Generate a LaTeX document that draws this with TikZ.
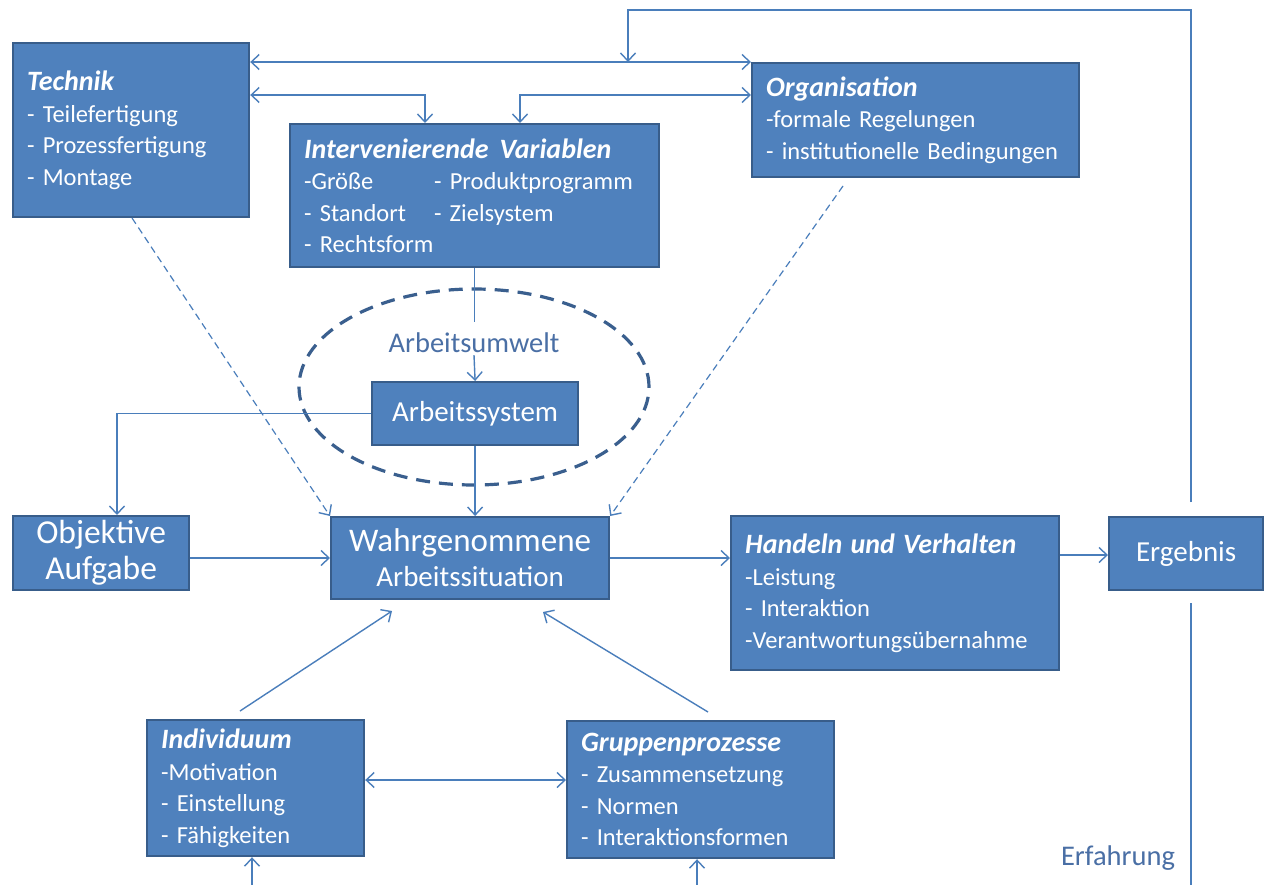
\documentclass[tikz,border=0pt]{standalone}
\usepackage{fontspec}
\setmainfont{Carlito}
\usetikzlibrary{arrows.meta,calc,shapes.geometric}
\definecolor{boxfill}{HTML}{4F81BD}
\definecolor{boxline}{HTML}{385D8A}
\definecolor{conncol}{HTML}{4A7EBB}
\definecolor{ellcol}{HTML}{3A5F8E}
\definecolor{labcol}{HTML}{4A6FA5}
\newcommand{\itemfont}{\fontsize{24.5}{31.5}\selectfont}
\newcommand{\ttl}[1]{{\fontsize{28}{31.5}\selectfont\bfseries\itshape #1}}
\begin{document}
\begin{tikzpicture}[x=1pt,y=-1pt,
  box/.style={draw=boxline, line width=2.2pt, fill=boxfill, text=white, anchor=north west,
    inner xsep=14pt, inner ysep=0pt, align=left, font=\itemfont},
  cbox/.style={box, align=center, inner xsep=0pt},
  conn/.style={draw=conncol, line width=1.4pt},
  tip/.style={-{Straight Barb[length=8pt,width=15pt,line width=1.4pt]}},
  tipboth/.style={{Straight Barb[length=8pt,width=15pt,line width=1.4pt]}-{Straight Barb[length=8pt,width=15pt,line width=1.4pt]}},
  dashconn/.style={conn, line width=1.2pt, dash pattern=on 7pt off 4.5pt},
  lab/.style={text=labcol, inner sep=2pt}
]
\fill[white] (0,0) rectangle (1265,885);
\useasboundingbox (0,0) rectangle (1265,885);

% environment ellipse
\node[ellipse, draw=ellcol, line width=3.2pt, dash pattern=on 14pt off 9pt,
  minimum width=350pt, minimum height=196pt, inner sep=0pt] (env) at (474,387) {};

% boxes
\node[box, text width=208pt, minimum height=174pt] (tech) at (12,42)
  {\ttl{Technik}\\- Teilefertigung\\- Prozessfertigung\\- Montage};
\node[box, text width=341pt, minimum height=143pt] (iv) at (289,123)
  {\ttl{Intervenierende\hspace{3pt} Variablen}\\
   \makebox[130pt][l]{-Größe}- Produktprogramm\\
   \makebox[130pt][l]{- Standort}- Zielsystem\\
   - Rechtsform};
\node[box, text width=299pt, minimum height=114pt] (org) at (751,62)
  {\ttl{Organisation}\\-formale Regelungen\\- institutionelle Bedingungen};
\node[cbox, minimum width=206pt, minimum height=63pt, font=\fontsize{29}{32}\selectfont] (as) at (371,381)
  {Arbeitssystem};
\node[lab, font=\fontsize{28.5}{32}\selectfont] (aw) at (474,343) {Arbeitsumwelt};
\node[cbox, minimum width=176pt, minimum height=74pt, font=\fontsize{33.5}{36}\selectfont] (obj) at (12,515)
  {Objektive\\Aufgabe};
\node[cbox, minimum width=278pt, minimum height=82pt, font=\fontsize{29}{35}\selectfont] (wahr) at (330,516)
  {{\fontsize{33}{35}\selectfont Wahrgenommene}\\{\fontsize{29}{35}\selectfont Arbeitssituation}};
\node[box, text width=300pt, minimum height=154pt] (hand) at (730,515)
  {\ttl{Handeln und Verhalten}\\-Leistung\\- Interaktion\\-Verantwortungsübernahme};
\node[cbox, minimum width=154pt, minimum height=73pt, font=\fontsize{29}{32}\selectfont] (erg) at (1108,516)
  {Ergebnis};
\node[box, text width=189pt, minimum height=136pt] (ind) at (146,719)
  {\ttl{Individuum}\\-Motivation\\- Einstellung\\- Fähigkeiten};
\node[box, text width=239pt, minimum height=137pt] (grp) at (566,720)
  {\ttl{Gruppenprozesse}\\- Zusammensetzung\\- Normen\\- Interaktionsformen};
\node[lab, font=\fontsize{28.5}{32}\selectfont] (erf) at (1118,858) {Erfahrung};

% helper coordinates
\coordinate (loopTop) at (1191,10);
\coordinate (loopL) at (628,10);
\coordinate (ergUp) at (1191,502);
\coordinate (ergDown) at (1191,603);
\coordinate (ergBot) at (1191,885);
\coordinate (yA) at (0,62);
\coordinate (yB) at (0,95);
\coordinate (xIV1) at (425,0);
\coordinate (xIV2) at (520,0);
\coordinate (xObj) at (117,0);
\coordinate (yC) at (0,558);
\coordinate (yD) at (0,555);
\coordinate (yE) at (0,780);
\coordinate (dT) at (132,218);
\coordinate (dO) at (843,186);
\coordinate (iS) at (240,711);
\coordinate (iE) at (392,611);
\coordinate (gS) at (708,712);
\coordinate (gE) at (543,612);
\coordinate (iB) at (252,885);
\coordinate (gB) at (697,885);

% connectors
\draw[conn,tip] (ergUp) -- (loopTop) -- (loopL) -- (loopL |- yA);
\draw[conn] (ergDown) -- (ergBot);
\draw[conn,tipboth] (tech.east |- yA) -- (org.west |- yA);
\draw[conn,tipboth] (tech.east |- yB) -| (xIV1 |- iv.north);
\draw[conn,tipboth] (org.west |- yB) -| (xIV2 |- iv.north);
\draw[conn] (iv.south) -- ++(0,54);
\draw[conn,tip] (aw.south) -- (as.north);
\draw[conn,tip] (as.south) -- (as.south |- wahr.north);
\draw[conn,tip] (as.west) -| (xObj |- obj.north);
\draw[conn,tip] (obj.east |- yC) -- (wahr.west |- yC);
\draw[conn,tip] (wahr.east |- yC) -- (hand.west |- yC);
\draw[conn,tip] (hand.east |- yD) -- (erg.west |- yD);
\draw[dashconn,tip] (dT) -- (wahr.north west);
\draw[dashconn,tip] (dO) -- (wahr.north east);
\draw[conn,tip] (iS) -- (iE);
\draw[conn,tip] (gS) -- (gE);
\draw[conn,tipboth] (ind.east |- yE) -- (grp.west |- yE);
\draw[conn,tip] (iB) -- (iB |- ind.south);
\draw[conn,tip] (gB) -- (gB |- grp.south);
\end{tikzpicture}
\end{document}
